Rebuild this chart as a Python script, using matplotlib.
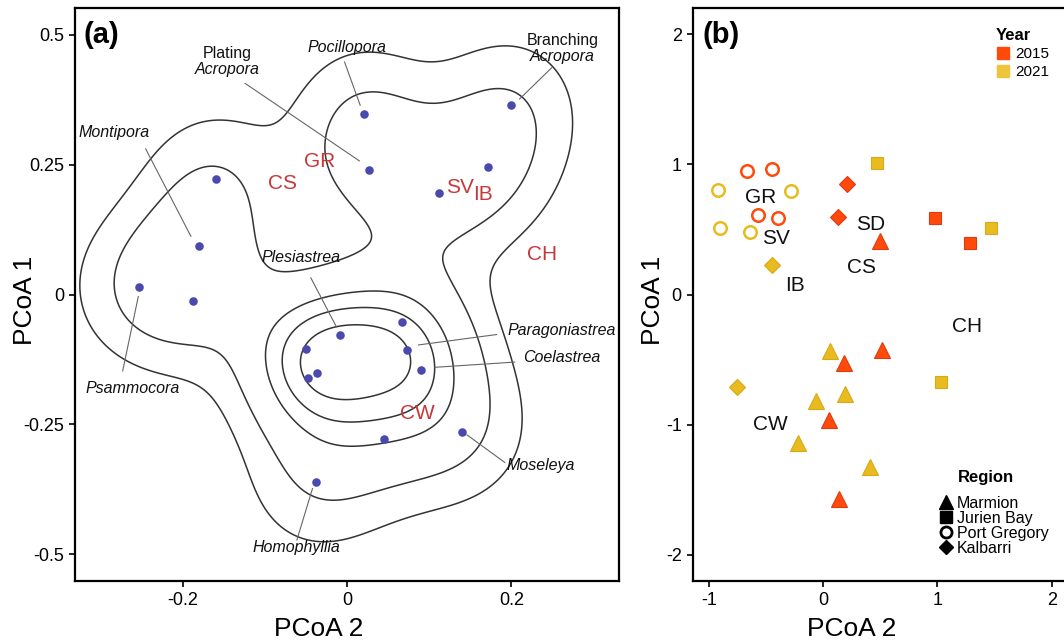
import numpy as np
import matplotlib
matplotlib.use("Agg")
import matplotlib.pyplot as plt
from matplotlib.lines import Line2D

plt.rcParams['font.family'] = ['Liberation Sans', 'DejaVu Sans']
plt.rcParams['axes.unicode_minus'] = False

# ---------------- Panel (a) data: genus PCoA scores ----------------
genus_x = [0.021, -0.159, -0.180, -0.253, -0.187, 0.027, 0.199, 0.171, 0.112,
           -0.008, -0.050, -0.037, -0.047, -0.038, 0.067, 0.073, 0.090, 0.045, 0.140]
genus_y = [0.348, 0.222, 0.093, 0.014, -0.012, 0.239, 0.364, 0.245, 0.195,
           -0.077, -0.104, -0.151, -0.160, -0.361, -0.053, -0.106, -0.146, -0.278, -0.264]

# site labels in panel (a)
site_a_names = ["CS", "GR", "SV", "IB", "CH", "CW"]
site_a_x = [-0.078, -0.033, 0.137, 0.166, 0.237, 0.086]
site_a_y = [0.214, 0.255, 0.205, 0.192, 0.076, -0.228]

# genus annotations: (label lines, italic flags, text pos of first line, leader start, leader end)
genus_labels = [
    (["Pocillopora"], [True], (0.000, 0.475), (-0.003, 0.447), (0.016, 0.364)),
    (["Plating", "Acropora"], [False, True], (-0.146, 0.464), (-0.124, 0.406), (0.015, 0.257)),
    (["Branching", "Acropora"], [False, True], (0.262, 0.488), (0.249, 0.436), (0.210, 0.376)),
    (["Montipora"], [True], (-0.284, 0.311), (-0.245, 0.280), (-0.190, 0.112)),
    (["Psammocora"], [True], (-0.261, -0.180), (-0.273, -0.147), (-0.254, -0.004)),
    (["Plesiastrea"], [True], (-0.056, 0.072), (-0.044, 0.032), (-0.013, -0.062)),
    (["Paragoniastrea"], [True], (0.261, -0.070), (0.182, -0.077), (0.087, -0.097)),
    (["Coelastrea"], [True], (0.261, -0.121), (0.204, -0.130), (0.107, -0.140)),
    (["Moseleya"], [True], (0.236, -0.329), (0.192, -0.323), (0.146, -0.270)),
    (["Homophyllia"], [True], (-0.062, -0.486), (-0.061, -0.472), (-0.042, -0.373)),
]

# ---------------- Panel (b) data: site-year PCoA scores ----------------
b_region = (["Port Gregory"] * 8 + ["Kalbarri"] * 4 + ["Jurien Bay"] * 5 + ["Marmion"] * 10)
b_year = ([2015] * 4 + [2021] * 4 +
          [2015, 2015, 2021, 2021] +
          [2021, 2021, 2021, 2015, 2015] +
          [2015] * 5 + [2021] * 5)
b_x = [-0.668, -0.452, -0.575, -0.396, -0.924, -0.285, -0.906, -0.640,
       0.211, 0.129, -0.446, -0.757,
       0.471, 1.469, 1.032, 0.982, 1.284,
       0.501, 0.516, 0.179, 0.055, 0.141, 0.058, 0.190, -0.065, -0.220, 0.410]
b_y = [0.948, 0.964, 0.613, 0.590, 0.800, 0.792, 0.513, 0.477,
       0.846, 0.598, 0.225, -0.713,
       1.013, 0.510, -0.675, 0.585, 0.395,
       0.413, -0.423, -0.526, -0.967, -1.569, -0.431, -0.764, -0.821, -1.141, -1.328]

site_b_names = ["GR", "SV", "IB", "CS", "SD", "CH", "CW"]
site_b_x = [-0.545, -0.411, -0.244, 0.334, 0.419, 1.260, -0.463]
site_b_y = [0.744, 0.428, 0.069, 0.210, 0.538, -0.249, -1.000]

years = [2015, 2021]
regions = ["Marmion", "Jurien Bay", "Port Gregory", "Kalbarri"]

# ---------------- styling ----------------
year_fill = {2015: "#FF4A0C", 2021: "#E8BC1E"}
year_edge = {2015: "#DD3A10", 2021: "#D8A818"}
region_marker = {"Marmion": "^", "Jurien Bay": "s", "Port Gregory": "o", "Kalbarri": "D"}
region_size = {"Marmion": 11, "Jurien Bay": 9, "Port Gregory": 9, "Kalbarri": 8}

fig = plt.figure(figsize=(10.64, 6.44), dpi=100)
axa = fig.add_axes([0.0705, 0.0978, 0.5113, 0.8898])
axb = fig.add_axes([0.6513, 0.0978, 0.3500, 0.8898])

# ---- panel (a): KDE contours of genus scores ----
gx = np.array(genus_x)
gy = np.array(genus_y)
hx, hy = 0.060, 0.100
xx, yy = np.meshgrid(np.linspace(-0.33, 0.33, 400), np.linspace(-0.55, 0.55, 400))
dens = np.zeros_like(xx)
for px, py in zip(gx, gy):
    dens += np.exp(-0.5 * (((xx - px) / hx) ** 2 + ((yy - py) / hy) ** 2))
dens /= dens.max()
axa.contour(xx, yy, dens, levels=[0.13, 0.29, 0.55, 0.70, 0.85],
            colors="#333333", linewidths=1.1)

axa.scatter(gx, gy, s=38, color="#4A4AAE", zorder=5, linewidths=0)

for name, sx, sy in zip(site_a_names, site_a_x, site_a_y):
    axa.text(sx, sy, name, color="#C8383A", fontsize=15, ha="center", va="center", zorder=6)

for lines, italics, tpos, l0, l1 in genus_labels:
    for i, (ln, it) in enumerate(zip(lines, italics)):
        axa.text(tpos[0], tpos[1] - i * 0.031, ln, fontsize=11.5,
                 style="italic" if it else "normal",
                 ha="center", va="center", color="#111111", zorder=6)
    axa.plot([l0[0], l1[0]], [l0[1], l1[1]], color="#666666", lw=0.8, zorder=4)

axa.set_xlim(-0.331, 0.331)
axa.set_ylim(-0.551, 0.551)
axa.set_xticks([-0.2, 0, 0.2])
axa.set_xticklabels(["-0.2", "0", "0.2"])
axa.set_yticks([-0.5, -0.25, 0, 0.25, 0.5])
axa.set_yticklabels(["-0.5", "-0.25", "0", "0.25", "0.5"])
axa.set_xlabel("PCoA 2", fontsize=19)
axa.set_ylabel("PCoA 1", fontsize=19)
axa.xaxis.set_label_coords(0.447, -0.062)
axa.yaxis.set_label_coords(-0.07, 0.49)
axa.text(0.015, 0.978, "(a)", transform=axa.transAxes, fontsize=21, fontweight="bold",
         ha="left", va="top")

# ---- panel (b) ----
bx = np.array(b_x)
by = np.array(b_y)
breg = np.array(b_region)
byr = np.array(b_year)
for reg in regions:
    for yr in years:
        m = (breg == reg) & (byr == yr)
        if not m.any():
            continue
        if reg == "Port Gregory":
            axb.plot(bx[m], by[m], linestyle="none", marker="o", markersize=9,
                     markerfacecolor="none", markeredgecolor=year_fill[yr], markeredgewidth=1.8, zorder=4)
        else:
            axb.plot(bx[m], by[m], linestyle="none", marker=region_marker[reg],
                     markersize=region_size[reg], markerfacecolor=year_fill[yr],
                     markeredgecolor=year_edge[yr], markeredgewidth=0.8, zorder=4)

for name, sx, sy in zip(site_b_names, site_b_x, site_b_y):
    axb.text(sx, sy, name, color="#111111", fontsize=15, ha="center", va="center", zorder=6)

axb.set_xlim(-1.14, 2.12)
axb.set_ylim(-2.2, 2.2)
axb.set_xticks([-1, 0, 1, 2])
axb.set_yticks([-2, -1, 0, 1, 2])
axb.set_xlabel("PCoA 2", fontsize=19)
axb.set_ylabel("PCoA 1", fontsize=19)
axb.xaxis.set_label_coords(0.426, -0.062)
axb.yaxis.set_label_coords(-0.075, 0.49)
axb.text(0.025, 0.978, "(b)", transform=axb.transAxes, fontsize=21, fontweight="bold",
         ha="left", va="top")

year_handles = [Line2D([], [], linestyle="none", marker="s", markersize=9,
                       markerfacecolor=c, markeredgecolor=c) for c in ["#FF4A0C", "#EEC43A"]]
leg1 = axb.legend(year_handles, ["2015", "2021"], title="Year", loc="upper right",
                  bbox_to_anchor=(0.985, 0.983), frameon=False, fontsize=11,
                  title_fontproperties={"weight": "bold", "size": 12},
                  handletextpad=0.3, labelspacing=0.25, borderpad=0.2, handlelength=1.0,
                  alignment="left")
axb.add_artist(leg1)
reg_handles = [Line2D([], [], linestyle="none", marker="^", markersize=10, color="black"),
               Line2D([], [], linestyle="none", marker="s", markersize=8, color="black"),
               Line2D([], [], linestyle="none", marker="o", markersize=8, markerfacecolor="white",
                      markeredgecolor="black", markeredgewidth=2),
               Line2D([], [], linestyle="none", marker="D", markersize=7, color="black")]
axb.legend(reg_handles, regions, loc="lower right",
           bbox_to_anchor=(0.985, 0.025), frameon=False, fontsize=11.5,
           handletextpad=0.2, labelspacing=0.0, borderpad=0.2, handlelength=1.0)
axb.text(0.787, 0.180, "Region", transform=axb.transAxes, fontsize=12, fontweight="bold",
         ha="center", va="center")

for ax in (axa, axb):
    for sp in ax.spines.values():
        sp.set_linewidth(1.6)
        sp.set_color("black")
    ax.tick_params(axis="both", labelsize=13, length=4, width=1.2, direction="out", pad=4)

fig.savefig("out.png", dpi=100)
